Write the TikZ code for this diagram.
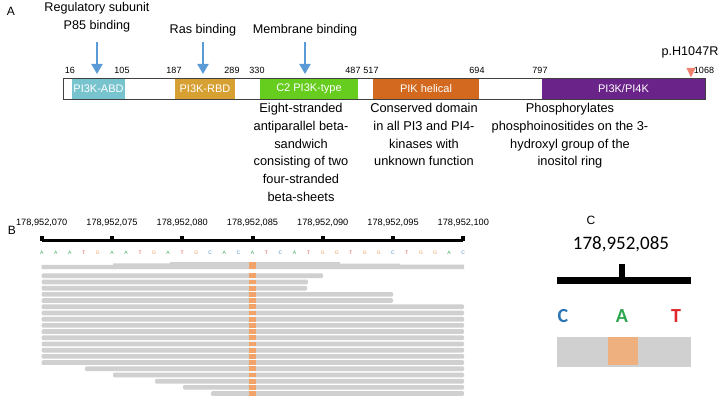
\documentclass[tikz,border=0pt]{standalone}
\usepackage{fontspec}
\setmainfont{Liberation Sans}
\newfontfamily\calib{Carlito}
\usetikzlibrary{arrows.meta}
\definecolor{cabd}{HTML}{78C4CE}
\definecolor{crbd}{HTML}{D6A032}
\definecolor{cctwo}{HTML}{66CC1E}
\definecolor{cpik}{HTML}{D2691E}
\definecolor{cpik4}{HTML}{6A2388}
\definecolor{carrow}{HTML}{5B9BD5}
\definecolor{cmut}{HTML}{F08070}
\definecolor{cread}{HTML}{D0D0D0}
\definecolor{chl}{HTML}{F2A36A}
\definecolor{chlc}{HTML}{EFB080}
\definecolor{colA}{HTML}{3DAA5C}
\definecolor{colT}{HTML}{DE5050}
\definecolor{colG}{HTML}{EBA055}
\definecolor{colC}{HTML}{4A86BE}
\definecolor{bigC}{HTML}{2E75B6}
\definecolor{bigA}{HTML}{30A550}
\definecolor{bigT}{HTML}{E0282C}
\begin{document}
\begin{tikzpicture}[x=1pt,y=-1pt,
  panel/.style={font=\fontsize{12}{14}\selectfont, inner sep=0pt},
  toplab/.style={font=\fontsize{12.6}{18}\selectfont, align=center, inner sep=0pt},
  desc/.style={font=\fontsize{12.8}{17.8}\selectfont, align=center, inner sep=0pt, anchor=north},
  num/.style={font=\fontsize{9}{10}\selectfont, inner sep=0pt},
  dom/.style={minimum height=21pt, inner sep=0pt, text=white, font=\fontsize{11}{12}\selectfont},
  barrow/.style={carrow, line width=2pt, -{Triangle[width=11pt,length=10pt]}},
  rlab/.style={font=\fontsize{9.2}{10}\selectfont, inner sep=0pt},
  seq/.style={font=\fontsize{5}{6}\selectfont, inner sep=0pt},
  readbar/.style={fill=cread, rounded corners=1.2pt},
  hl/.style={fill=chl},
  big/.style={font=\calib\bfseries\fontsize{20}{22}\selectfont, inner sep=0pt}
]
\useasboundingbox (0,0) rectangle (721,401);

% ---------- Panel A ----------
\node[panel] (pA) at (11,11) {A};

\node[toplab] (l1) at (97,17) {Regulatory subunit\\P85 binding};
\node[toplab] (l2) at (203,30) {Ras binding};
\node[toplab] (l3) at (305,30) {Membrane binding};

\coordinate (a1s) at (97,42);  \coordinate (a1e) at (97,74);
\coordinate (a2s) at (203,42); \coordinate (a2e) at (203,74);
\coordinate (a3s) at (305,42); \coordinate (a3e) at (305,74);
\draw[barrow] (a1s) -- (a1e);
\draw[barrow] (a2s) -- (a2e);
\draw[barrow] (a3s) -- (a3e);

\node[dom, fill=cabd, minimum width=53pt] (abd) at (98.5,88.5) {PI3K-ABD};
\node[dom, fill=crbd, minimum width=60pt] (rbd) at (205,88.5) {PI3K-RBD};
\node[dom, fill=cctwo, minimum width=98pt] (ctwo) at (309,88.5) {C2 PI3K-type};
\node[dom, fill=cpik, minimum width=106pt] (pik) at (426,88.5) {PIK helical};
\node[dom, fill=cpik4, minimum width=163pt] (pik4) at (623.5,88.5) {PI3K/PI4K};
\node[draw=black!75, line width=0.6pt, minimum width=642pt, minimum height=21pt, inner sep=0pt] (bar) at (384,88.5) {};

\node[num] (n16) at (70,70) {16};
\node[num] (n105) at (122,70) {105};
\node[num] (n187) at (174,70) {187};
\node[num] (n289) at (232,70) {289};
\node[num] (n330) at (257,70) {330};
\node[num] (n487) at (353,70) {487};
\node[num] (n517) at (371,70) {517};
\node[num] (n694) at (477,70) {694};
\node[num] (n797) at (540,70) {797};
\node[num] (n1068) at (704,70) {1068};
\fill[cmut] (686.5,68) -- (695.5,68) -- (691,77.5) -- cycle;
\node[toplab] (mut) at (690,52) {p.H1047R};

\node[desc] (d1) at (301,103) {Eight-stranded\\antiparallel beta-\\sandwich\\consisting of two\\four-stranded\\beta-sheets};
\node[desc] (d2) at (424,103) {Conserved domain\\in all PI3 and PI4-\\kinases with\\unknown function};
\node[desc] (d3) at (570,103) {Phosphorylates\\phosphoinositides on the 3-\\hydroxyl group of the\\inositol ring};

% ---------- Panel B ----------
\node[panel] (pB) at (12,230) {B};
\draw[line width=3pt] (41.7,241) -- (463.3,241);
\foreach \lab [count=\k from 0] in {070,075,080,085,090,095,100} {
  \fill ({41.7+70.27*\k-2},236.5) rectangle ({41.7+70.27*\k+2},241);
  \node[rlab] (r\k) at ({41.7+70.27*\k},223) {178,952,\lab};
}
\foreach \b [count=\i from 0] in {A,A,A,T,G,A,A,T,G,A,T,G,C,A,C,A,T,C,A,T,G,G,T,G,G,C,T,G,G,A,C} {
  \node[seq, text=col\b] (s\i) at ({41.7+14.05*\i},252.5) {\b};
}
% top composite read
\fill[cread] (41.7,269) -- (41.7,264.8) -- (113,264.8) -- (113,263.4) -- (170,263.4) -- (170,262.2)
  -- (340,262.2) -- (340,263.5) -- (400,263.5) -- (400,264.7) -- (464,264.7) -- (464,269) -- cycle;
\fill[hl] (248.7,262.2) rectangle (256,269);
% reads
\foreach \s/\e [count=\i from 0] in {41.7/323,41.7/308,41.7/307,41.7/393,41.7/393,41.7/464,41.7/464,41.7/464,41.7/464,41.7/464,41.7/464,41.7/464,41.7/464,41.7/464,41.7/464,85/464,113/464,155/464,183/464,211/464} {
  \fill[readbar] (\s,{273.4+6.2*\i}) rectangle (\e,{278.1+6.2*\i});
  \fill[hl] (248.7,{273.4+6.2*\i}) rectangle (256,{278.1+6.2*\i});
}

% ---------- Panel C ----------
\node[panel] (pC) at (591,220) {C};
\node[font=\calib\fontsize{19}{21}\selectfont, inner sep=0pt] (pos) at (621,244) {178,952,085};
\draw[line width=6.5pt] (557,280.5) -- (691,280.5);
\fill (618.5,264) rectangle (625,281);
\node[big, text=bigC] (bc) at (563,316) {C};
\node[big, text=bigA] (ba) at (622,316) {A};
\node[big, text=bigT] (bt) at (676,316) {T};
\fill[cread] (557,337) rectangle (691,367);
\fill[chlc] (608,337) rectangle (638,365);
\end{tikzpicture}
\end{document}
